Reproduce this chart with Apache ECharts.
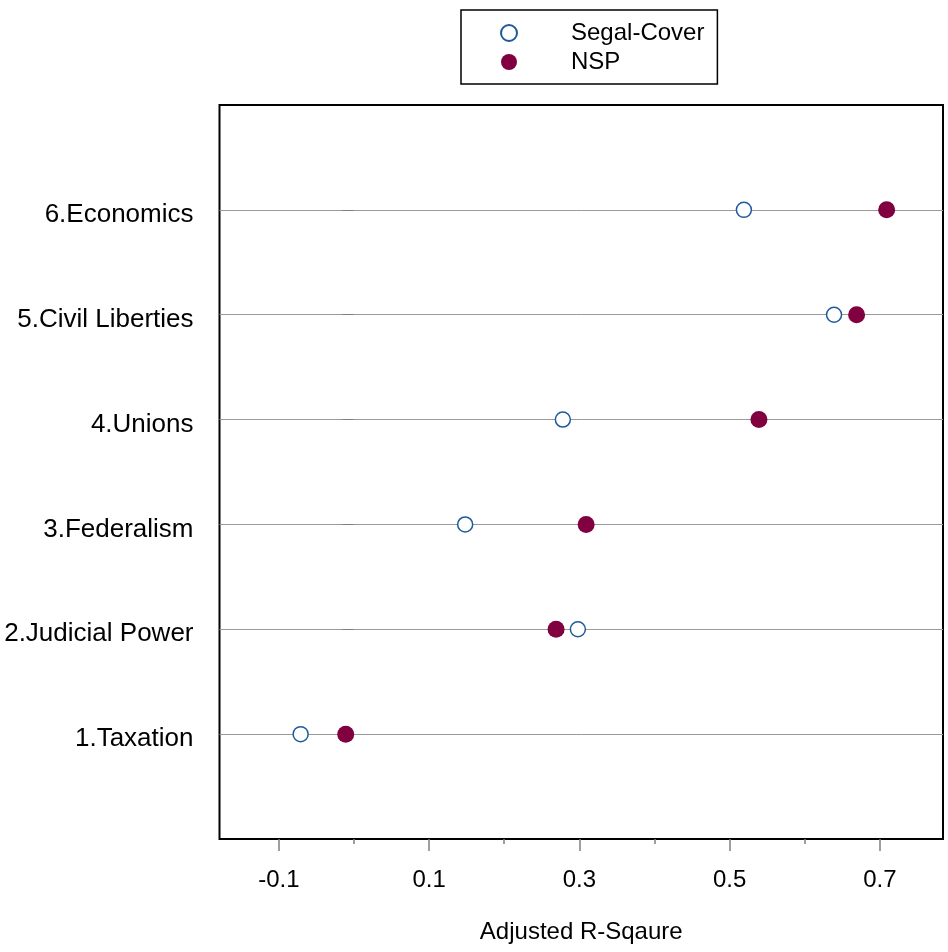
<!DOCTYPE html>
<html>
<head>
<meta charset="utf-8">
<script src="https://cdn.jsdelivr.net/npm/echarts@6/dist/echarts.min.js"></script>
<style>
  html, body { margin: 0; padding: 0; background: #fff; }
  #main { width: 948px; height: 952px; }
</style>
</head>
<body>
<div id="main"></div>
<script>
// categories, bottom to top
var categories = ['1.Taxation', '2.Judicial Power', '3.Federalism', '4.Unions', '5.Civil Liberties', '6.Economics'];
var segalCover = [-0.071, 0.298, 0.148, 0.278, 0.639, 0.519];
var nsp = [-0.011, 0.269, 0.309, 0.539, 0.669, 0.709];
var majorTicks = [-0.1, 0.1, 0.3, 0.5, 0.7];
var minorTicks = [0, 0.2, 0.4, 0.6];
var rowPos = [1, 2, 3, 4, 5, 6];

var font = 'Liberation Sans, Arial, sans-serif';

function toPoints(vals) {
  return vals.map(function (v, i) { return [v, i + 1]; });
}

var chart = echarts.init(document.getElementById('main'));
chart.setOption({
  animation: false,
  textStyle: { fontFamily: font },
  grid: {
    left: 219.5, right: 5, top: 105, bottom: 113,
    show: true, borderColor: '#000', borderWidth: 2, backgroundColor: 'transparent'
  },
  legend: {
    orient: 'vertical',
    left: 461, top: 10,
    padding: [11, 13, 10, 39],
    itemGap: 5,
    itemWidth: 16, itemHeight: 16,
    borderColor: '#000', borderWidth: 1.5,
    formatter: function (name) { return '{gap|}' + name; },
    textStyle: {
      fontSize: 24, color: '#000', fontFamily: font,
      rich: { gap: { width: 49 } }
    },
    data: ['Segal-Cover', 'NSP']
  },
  xAxis: [{
    type: 'value',
    min: -0.179, max: 0.784,
    name: 'Adjusted R-Sqaure',
    nameLocation: 'middle',
    nameGap: 81,
    nameTextStyle: { fontSize: 24, color: '#000', fontFamily: font },
    axisLine: { show: false },
    axisTick: { show: true, customValues: majorTicks, length: 12, lineStyle: { color: '#808080', width: 1.5 } },
    axisLabel: {
      customValues: majorTicks, fontSize: 24, color: '#000', margin: 29,
      formatter: function (v) { return v.toFixed(1); }
    },
    splitLine: { show: false }
  }, {
    type: 'value',
    position: 'bottom',
    min: -0.179, max: 0.784,
    axisLine: { show: false },
    axisTick: { show: true, customValues: minorTicks, length: 5, lineStyle: { color: '#808080', width: 1.5 } },
    axisLabel: { show: false },
    splitLine: { show: false }
  }],
  yAxis: {
    type: 'value',
    min: 0, max: 7, interval: 1,
    axisLine: { show: false },
    axisTick: { show: true, customValues: rowPos, length: 12, lineStyle: { color: '#808080', width: 1 } },
    axisLabel: {
      customValues: rowPos, color: '#000', margin: 26,
      formatter: function (v) { return '{lab|' + categories[v - 1] + '}'; },
      rich: {
        lab: { fontSize: 26, color: '#000', fontFamily: font, padding: [10, 0, 0, 0] }
      }
    },
    splitLine: { show: true, lineStyle: { color: '#9a9a9a', width: 1 } }
  },
  series: [{
    name: 'Segal-Cover',
    type: 'scatter',
    symbol: 'circle',
    symbolSize: 15,
    itemStyle: { color: '#fff', borderColor: '#1f5a9c', borderWidth: 1.5, opacity: 1 },
    data: toPoints(segalCover)
  }, {
    name: 'NSP',
    type: 'scatter',
    symbol: 'circle',
    symbolSize: 17,
    itemStyle: { color: '#800040', opacity: 1 },
    data: toPoints(nsp)
  }]
});
</script>
</body>
</html>
